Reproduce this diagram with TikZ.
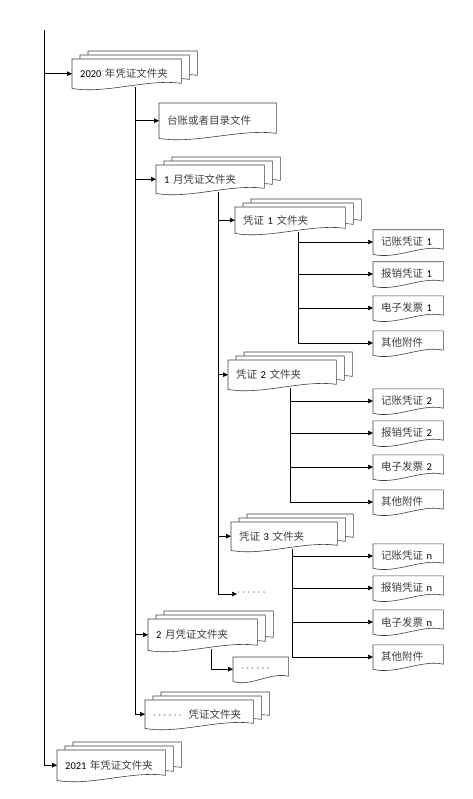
\documentclass[tikz,border=0pt]{standalone}
\usepackage{fontspec}
\setmainfont{Carlito}
\newfontfamily\cjk{Noto Sans CJK SC}
\usetikzlibrary{arrows.meta,calc,backgrounds}
\newcommand{\zh}[1]{{\cjk\color{black!75}#1}}
\newcommand{\gdots}{{\color{black!45}·\kern2.5pt·\kern2.5pt·\kern2.5pt·\kern2.5pt·\kern2.5pt·}}

\tikzset{
  doc/.style={anchor=north west, inner xsep=8pt, inner ysep=0pt, align=left,
    font=\fontsize{10.5}{12}\selectfont},
  docline/.style={draw=black!75, fill=white, line width=0.6pt},
  arr/.style={draw=black, line width=0.7pt, -{Triangle[length=5pt,width=4.5pt]}},
  trunk/.style={draw=black, line width=0.7pt}
}

% one page of a document shape: node name, dx, dy (y grows downwards)
\newcommand{\pagedoc}[3]{%
  \path[docline] ($(#1.south west)+(#2,#3)$) -- ($(#1.north west)+(#2,#3)$)
    -- ($(#1.north east)+(#2,#3)$) -- ($(#1.south east)+(#2,#3-5)$)
    .. controls ($(#1.south east)!0.3!(#1.south west)+(#2,#3-10)$)
    and ($(#1.south east)!0.7!(#1.south west)+(#2,#3+6)$)
    .. ($(#1.south west)+(#2,#3)$) -- cycle;}
% three pages stacked
\newcommand{\stackdoc}[1]{\pagedoc{#1}{16}{-8}\pagedoc{#1}{8}{-4}\pagedoc{#1}{0}{0}}

\begin{document}
\begin{tikzpicture}[x=1pt,y=-1pt]
\useasboundingbox (0,0) rectangle (472,799);

% folders
\node[doc, text width=93pt, minimum height=29pt] (y2020) at (72,59) {2020 \zh{年凭证文件夹}};
\node[doc, text width=101pt, minimum height=35pt] (tz) at (159,103) {\zh{台账或者目录文件}};
\node[doc, text width=92pt, minimum height=28pt] (m1) at (156,165) {1 \zh{月凭证文件夹}};
\node[doc, text width=94pt, minimum height=26pt] (v1) at (235,207) {\zh{凭证} 1 \zh{文件夹}};
\node[doc, text width=92pt, minimum height=29pt] (v2) at (228,360) {\zh{凭证} 2 \zh{文件夹}};
\node[doc, text width=90pt, minimum height=28pt] (v3) at (231,522) {\zh{凭证} 3 \zh{文件夹}};
\node[doc, anchor=west, inner xsep=0pt] (more1) at (237,594) {\gdots};
\node[doc, text width=93pt, minimum height=31pt] (m2) at (148,619) {2 \zh{月凭证文件夹}};
\node[doc, text width=39pt, minimum height=24pt] (more2) at (233,657) {\gdots};
\node[doc, text width=92pt, minimum height=28pt] (mdots) at (145,700) {\gdots\ \ \zh{凭证文件夹}};
\node[doc, text width=92pt, minimum height=30pt] (y2021) at (57,750) {2021 \zh{年凭证文件夹}};

% files in each voucher folder
\foreach \g/\ya/\n in {1/242/1, 2/401/2, 3/556/n}{
  \node[doc, anchor=west, text width=54pt, minimum height=24pt] (jz\g) at (373,\ya) {\zh{记账凭证} \n};
  \node[doc, anchor=west, text width=54pt, minimum height=24pt] (bx\g) at (373,\ya+32) {\zh{报销凭证} \n};
  \node[doc, anchor=west, text width=54pt, minimum height=24pt] (dz\g) at (373,\ya+66) {\zh{电子发票} \n};
  \node[doc, anchor=west, text width=54pt, minimum height=24pt] (qt\g) at (373,\ya+101) {\zh{其他附件}};
}

\begin{pgfonlayer}{background}
  \stackdoc{y2020}
  \pagedoc{tz}{0}{0}
  \stackdoc{m1}
  \stackdoc{v1}
  \stackdoc{v2}
  \stackdoc{v3}
  \stackdoc{m2}
  \pagedoc{more2}{0}{0}
  \stackdoc{mdots}
  \stackdoc{y2021}
  \foreach \g in {1,2,3}{
    \foreach \k in {jz,bx,dz,qt}{\pagedoc{\k\g}{0}{0}}
  }
\end{pgfonlayer}

% connectors
\coordinate (top) at (44,30);
\draw[arr] (top) |- (y2021.west);
\draw[arr] (top |- y2020.west) -- (y2020.west);

\coordinate (t0) at ([xshift=8.5pt,yshift=1.5pt]y2020.south);
\draw[arr] (t0) |- (mdots.west);
\draw[arr] (t0 |- tz.west) -- (tz.west);
\draw[arr] (t0 |- m1.west) -- (m1.west);
\draw[arr] (t0 |- m2.west) -- (m2.west);

\coordinate (t1) at ([xshift=8.5pt,yshift=1.5pt]m1.south);
\draw[arr] (t1) |- (more1.west);
\draw[arr] (t1 |- v1.west) -- (v1.west);
\draw[arr] (t1 |- v2.west) -- (v2.west);
\draw[arr] (t1 |- v3.west) -- (v3.west);

\coordinate (t2) at ([xshift=9pt,yshift=1.5pt]m2.south);
\draw[arr] (t2) |- (more2.west);

\foreach \g in {1,2,3}{
  \coordinate (vt\g) at ([xshift=8.5pt,yshift=1.5pt]v\g.south);
  \draw[arr] (vt\g) |- (qt\g.west);
  \draw[arr] (vt\g |- jz\g.west) -- (jz\g.west);
  \draw[arr] (vt\g |- bx\g.west) -- (bx\g.west);
  \draw[arr] (vt\g |- dz\g.west) -- (dz\g.west);
}
\end{tikzpicture}
\end{document}
